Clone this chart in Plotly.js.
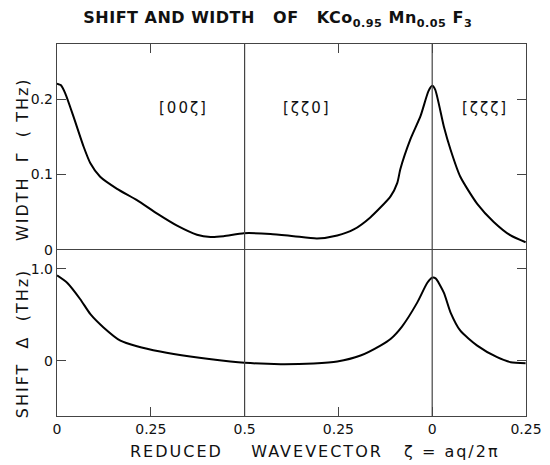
<!DOCTYPE html>
<html>
<head>
<meta charset="utf-8">
<script src="https://cdn.plot.ly/plotly-3.0.1.min.js"></script>
<style>
html,body{margin:0;padding:0;background:#fff;}
#chart{width:550px;height:465px;}
#chart .annotation-text{letter-spacing:2px;}
#chart .gtitle{letter-spacing:0.5px;}
</style>
</head>
<body>
<div id="chart"></div>
<script>
// Reduced wavevector positions along [00ζ] (0-0.5), [ζζ0] (0.5-1.0), [ζζζ] (1.0-1.25)
const widthX = [0, 0.010, 0.022, 0.044, 0.071, 0.089, 0.115, 0.160, 0.213, 0.267, 0.320, 0.373, 0.409, 0.444, 0.498, 0.569, 0.631, 0.693, 0.747, 0.791, 0.835, 0.889, 0.907, 0.915, 0.942, 0.969, 0.990, 1.000, 1.008, 1.031, 1.049, 1.075, 1.120, 1.164, 1.209, 1.249];
const widthY = [0.221, 0.219, 0.208, 0.177, 0.137, 0.115, 0.097, 0.081, 0.066, 0.048, 0.032, 0.020, 0.017, 0.018, 0.022, 0.021, 0.018, 0.015, 0.019, 0.027, 0.043, 0.071, 0.089, 0.107, 0.147, 0.178, 0.211, 0.218, 0.213, 0.164, 0.133, 0.097, 0.061, 0.037, 0.019, 0.010];

const shiftX = [0, 0.027, 0.062, 0.089, 0.124, 0.169, 0.213, 0.275, 0.355, 0.462, 0.500, 0.596, 0.684, 0.747, 0.809, 0.862, 0.889, 0.920, 0.960, 0.987, 1.000, 1.009, 1.031, 1.049, 1.075, 1.120, 1.173, 1.209, 1.249];
const shiftY = [0.928, 0.848, 0.669, 0.507, 0.363, 0.219, 0.158, 0.100, 0.046, -0.008, -0.022, -0.037, -0.029, -0.008, 0.057, 0.165, 0.237, 0.375, 0.632, 0.848, 0.902, 0.895, 0.740, 0.524, 0.327, 0.165, 0.039, -0.015, -0.026];

const xTickVals = [0, 0.25, 0.5, 0.75, 1.0, 1.25];
const xTickText = ["0", "0.25", "0.5", "0.25", "0", "0.25"];
const widthTickVals = [0, 0.1, 0.2];
const widthTickText = ["0", "0.1", "0.2"];
const shiftTickVals = [0, 1.0];
const shiftTickText = ["0", "1.0"];
const directionLabels = ["[00ζ]", "[ζζ0]", "[ζζζ]"];
const directionX = [0.337, 0.667, 1.142];
const boundaries = [0.5, 1.0];

const FONT = "DejaVu Sans, Arial, sans-serif";
const AX = "#444";
const S = "\u00a0";

const traces = [
  {x: widthX, y: widthY, xaxis: "x2", yaxis: "y2", mode: "lines", line: {color: "#000", width: 2, shape: "spline", smoothing: 0.6}, hoverinfo: "skip"},
  {x: shiftX, y: shiftY, xaxis: "x", yaxis: "y", mode: "lines", line: {color: "#000", width: 2, shape: "spline", smoothing: 0.6}, hoverinfo: "skip"}
];

const baseX = {
  range: [0, 1.25], tickmode: "array", tickvals: xTickVals, ticktext: xTickText,
  ticks: "inside", ticklen: 9, tickwidth: 1.2, tickcolor: AX,
  showline: true, linecolor: AX, linewidth: 1.2,
  showgrid: false, zeroline: false, fixedrange: true
};
const baseY = {
  ticks: "inside", ticklen: 9, tickwidth: 1.2, tickcolor: AX,
  showline: true, linecolor: AX, linewidth: 1.2, mirror: "ticks",
  showgrid: false, zeroline: false, fixedrange: true, tickmode: "array",
  tickfont: {family: FONT, size: 14, color: "#111"}
};

const shapes = boundaries.map(b => ({type: "line", xref: "x", yref: "paper", x0: b, x1: b, y0: 0, y1: 1, line: {color: AX, width: 1.2}}));

const annotations = directionLabels.map((t, i) => ({
  text: t, x: directionX[i], y: 0.188, xref: "x2", yref: "y2", showarrow: false,
  font: {family: FONT, size: 15, color: "#111"}
}));
annotations.push(
  {text: "WIDTH" + S+S + "Γ" + S+S + "(" + S + "THz)", xref: "paper", yref: "paper", x: -0.073, y: 0.69, textangle: -90, showarrow: false,
   xanchor: "center", yanchor: "middle", font: {family: FONT, size: 16, color: "#111"}},
  {text: "SHIFT" + S+S + "Δ" + S+S + "(THz)", xref: "paper", yref: "paper", x: -0.073, y: 0.195, textangle: -90, showarrow: false,
   xanchor: "center", yanchor: "middle", font: {family: FONT, size: 16, color: "#111"}},
  {text: "REDUCED" + S+S+S+S + "WAVEVECTOR" + S+S+S + "ζ" + S + "=" + S + "aq/2π", xref: "paper", yref: "paper", x: 0.55, y: -0.095, showarrow: false,
   xanchor: "center", yanchor: "middle", font: {family: FONT, size: 16, color: "#111"}}
);

const layout = {
  width: 550, height: 465,
  margin: {l: 57, r: 24, t: 44, b: 49},
  paper_bgcolor: "#fff", plot_bgcolor: "#fff",
  showlegend: false,
  title: {text: "SHIFT" + S + "AND" + S + "WIDTH" + S+S+S + "OF" + S+S+S + "KCo<sub>0.95</sub>" + S + "Mn<sub>0.05</sub>" + S + "F<sub>3</sub>",
          x: 0.505, xanchor: "center", y: 0.962, yanchor: "middle", xref: "container", yref: "container",
          font: {family: FONT, size: 16, color: "#111", weight: "bold"}},
  xaxis: Object.assign({}, baseX, {anchor: "y", side: "bottom", mirror: true, showticklabels: true,
          tickfont: {family: FONT, size: 14, color: "#111"}}),
  xaxis2: Object.assign({}, baseX, {anchor: "y2", side: "top", matches: "x", mirror: false, showticklabels: false}),
  yaxis: Object.assign({}, baseY, {domain: [0, 0.447], range: [-0.60, 1.207], tickvals: shiftTickVals, ticktext: shiftTickText, anchor: "x"}),
  yaxis2: Object.assign({}, baseY, {domain: [0.447, 1], range: [0, 0.2737], tickvals: widthTickVals, ticktext: widthTickText, anchor: "x2"}),
  shapes: shapes,
  annotations: annotations
};

Plotly.newPlot("chart", traces, layout, {displayModeBar: false, staticPlot: true});
</script>
</body>
</html>
